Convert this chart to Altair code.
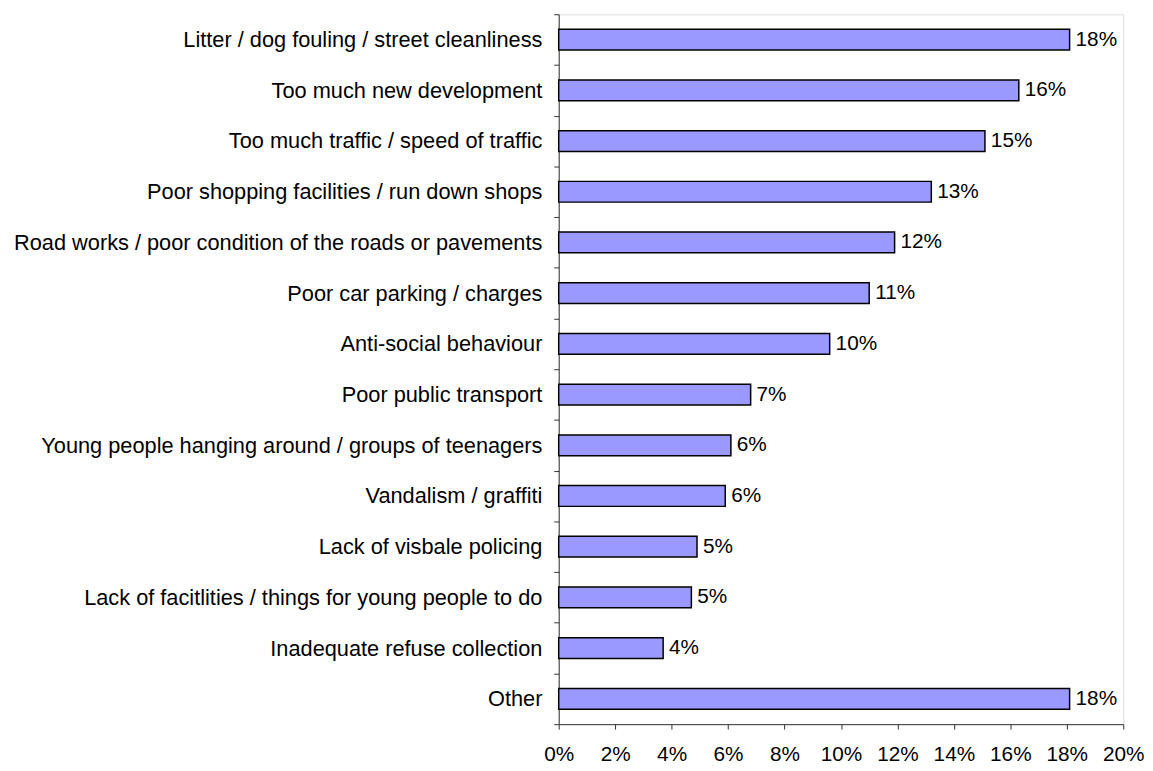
import altair as alt
import pandas as pd

categories = [
    "Litter / dog fouling / street cleanliness",
    "Too much new development",
    "Too much traffic / speed of traffic",
    "Poor shopping facilities / run down shops",
    "Road works / poor condition of the roads or pavements",
    "Poor car parking / charges",
    "Anti-social behaviour",
    "Poor public transport",
    "Young people hanging around / groups of teenagers",
    "Vandalism / graffiti",
    "Lack of visbale policing",
    "Lack of facitlities / things for young people to do",
    "Inadequate refuse collection",
    "Other",
]
values = [18.1, 16.3, 15.1, 13.2, 11.9, 11.0, 9.6, 6.8, 6.1, 5.9, 4.9, 4.7, 3.7, 18.1]
labels = ["18%", "16%", "15%", "13%", "12%", "11%", "10%", "7%", "6%", "6%", "5%", "5%", "4%", "18%"]
x_ticks = [0, 2, 4, 6, 8, 10, 12, 14, 16, 18, 20]

df = pd.DataFrame({"category": categories, "value": values, "label": labels})

FONT = "Liberation Sans"
AXIS_COLOR = "#333333"

y_enc = alt.Y(
    "category:N",
    sort=categories,
    scale=alt.Scale(paddingInner=0, paddingOuter=0),
    axis=alt.Axis(
        title=None,
        tickBand="extent",
        tickSize=5,
        tickColor=AXIS_COLOR,
        domainColor=AXIS_COLOR,
        labelPadding=12,
        labelFontSize=22,
        labelFont=FONT,
        labelColor="#000",
        labelLimit=0,
        grid=False,
    ),
)

x_enc = alt.X(
    "value:Q",
    scale=alt.Scale(domain=[0, 20], nice=False),
    axis=alt.Axis(
        title=None,
        values=x_ticks,
        labelExpr="datum.value + '%'",
        tickSize=5,
        tickColor=AXIS_COLOR,
        domainColor=AXIS_COLOR,
        labelPadding=15,
        labelFontSize=21,
        labelFont=FONT,
        labelColor="#000",
        labelFlush=False,
        grid=False,
    ),
)

bars = alt.Chart(df).mark_bar(
    color="#9999FF", stroke="#000", strokeWidth=1.5, size=21
).encode(x=x_enc, y=y_enc)

text = alt.Chart(df).mark_text(
    align="left", baseline="middle", dx=6, fontSize=21, font=FONT, color="#000"
).encode(
    x=alt.X("value:Q"),
    y=alt.Y("category:N", sort=categories),
    text="label:N",
)

chart = (
    alt.layer(bars, text)
    .properties(width=571, height=718, padding={"left": 5, "top": -9, "right": 0, "bottom": 0})
    .configure_view(strokeWidth=0)
    .configure(background="white")
)

chart.save("out.html", embed_options={"renderer": "svg", "actions": False})
